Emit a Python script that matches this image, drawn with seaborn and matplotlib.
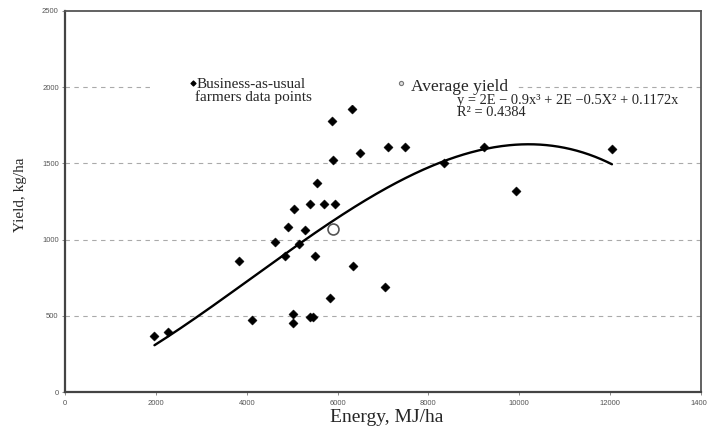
import numpy as np
import pandas as pd
import matplotlib
matplotlib.use("Agg")
import matplotlib.pyplot as plt
import seaborn as sns

# Farm survey: energy input vs. grain yield
energy = [1970, 2260, 3820, 4110, 4630, 4840, 4920, 5030, 5030, 5050, 5150,
          5290, 5390, 5390, 5470, 5500, 5540, 5710, 5840, 5880, 5910, 5950,
          6320, 6340, 6500, 7040, 7100, 7480, 8340, 9220, 9930, 12040]
yields = [370, 395, 860, 475, 985, 895, 1085, 515, 450, 1200, 970,
          1065, 1235, 490, 490, 890, 1370, 1235, 615, 1780, 1525, 1235,
          1855, 825, 1565, 690, 1605, 1605, 1500, 1610, 1320, 1595]

x_ticks = [0, 2000, 4000, 6000, 8000, 10000, 12000, 14000]
y_ticks = [0, 500, 1000, 1500, 2000, 2500]

legend_points = "Business-as-usual"
legend_points_2 = "farmers data points"
legend_avg = "Average yield"
eq_line = "y = 2E \u2212 0.9x\u00b3 + 2E \u22120.5X\u00b2 + 0.1172x"
r2_line = "R\u00b2 = 0.4384"

df = pd.DataFrame({"energy": energy, "yield": yields})
avg = pd.DataFrame({"energy": [df["energy"].mean()], "yield": [df["yield"].mean()]})

# Cubic trend through the origin (x^3, x^2, x terms)
xv = df["energy"].to_numpy(float)
A = np.column_stack([xv**3, xv**2, xv])
coef, *_ = np.linalg.lstsq(A, df["yield"].to_numpy(float), rcond=None)
xs = np.linspace(xv.min(), xv.max(), 300)
trend = pd.DataFrame({"energy": xs, "yield": coef[0]*xs**3 + coef[1]*xs**2 + coef[2]*xs})

sns.set_style("white")
serif = ["Liberation Serif", "DejaVu Serif"]
plt.rcParams["font.family"] = ["Liberation Sans", "DejaVu Sans"]

fig = plt.figure(figsize=(7.07, 4.28), dpi=100)
ax = fig.add_axes([0.0919, 0.0841, 0.8996, 0.8902])

sns.lineplot(data=trend, x="energy", y="yield", ax=ax, color="black",
             linewidth=1.7, zorder=3, legend=False)
sns.scatterplot(data=df, x="energy", y="yield", ax=ax, marker="D", s=22,
                color="black", edgecolor="black", linewidth=0.3, zorder=4, legend=False)
sns.scatterplot(data=avg, x="energy", y="yield", ax=ax, marker="o", s=62,
                facecolor="white", edgecolor="#555555", linewidth=1.2, zorder=5, legend=False)

ax.set_xlim(0, 14000)
ax.set_ylim(0, 2500)
ax.set_xticks(x_ticks)
ax.set_yticks(y_ticks)
ax.set_xticklabels([str(t) for t in x_ticks])
ax.set_yticklabels([str(t) for t in y_ticks])
ax.tick_params(axis="both", labelsize=5.5, labelcolor="#555555", color="#777777",
               length=2, width=0.6, pad=2.5, direction="out")
ax.tick_params(axis="x", pad=3.5)
ax.tick_params(left=True, bottom=True)

# dashed horizontal guides (not at the top frame)
for yv in y_ticks[1:-1]:
    ax.axhline(yv, color="#aaaaaa", linewidth=0.8, linestyle=(0, (4, 4)), zorder=1)

for side in ["left", "bottom"]:
    ax.spines[side].set_color("#444444")
    ax.spines[side].set_linewidth(1.6)
for side in ["top", "right"]:
    ax.spines[side].set_color("#555555")
    ax.spines[side].set_linewidth(1.3)

ax.set_xlabel("Energy, MJ/ha", fontsize=14, family=serif, va="center")
ax.xaxis.set_label_coords(0.5055, -0.068)
ax.set_ylabel("Yield, kg/ha", fontsize=11, family=serif, va="center")
ax.yaxis.set_label_coords(-0.0692, 0.517)

# legend-style key with a white backing over the gridline
ax.add_patch(plt.Rectangle((0.134, 0.753), 0.577, 0.092, transform=ax.transAxes,
                           facecolor="white", edgecolor="none", zorder=6))
ax.scatter([0.2008], [0.812], transform=ax.transAxes, marker="D", s=6,
           color="black", zorder=7, clip_on=False)
ax.text(0.2075, 0.798, legend_points, transform=ax.transAxes, fontsize=11,
        family=serif, va="baseline", ha="left", zorder=7)
ax.text(0.2045, 0.763, legend_points_2, transform=ax.transAxes, fontsize=11,
        family=serif, va="baseline", ha="left", zorder=7)
ax.scatter([0.528], [0.812], transform=ax.transAxes, marker="o", s=9,
           facecolor="#dddddd", edgecolor="#777777", linewidth=0.8, zorder=7, clip_on=False)
ax.text(0.5436, 0.789, legend_avg, transform=ax.transAxes, fontsize=12.5,
        family=serif, va="baseline", ha="left", zorder=7)

ax.text(0.6164, 0.757, eq_line, transform=ax.transAxes, fontsize=10.4,
        family=serif, va="baseline", ha="left", zorder=7)
ax.text(0.6164, 0.725, r2_line, transform=ax.transAxes, fontsize=10.4,
        family=serif, va="baseline", ha="left", zorder=7)

fig.savefig("out.png", dpi=100)
